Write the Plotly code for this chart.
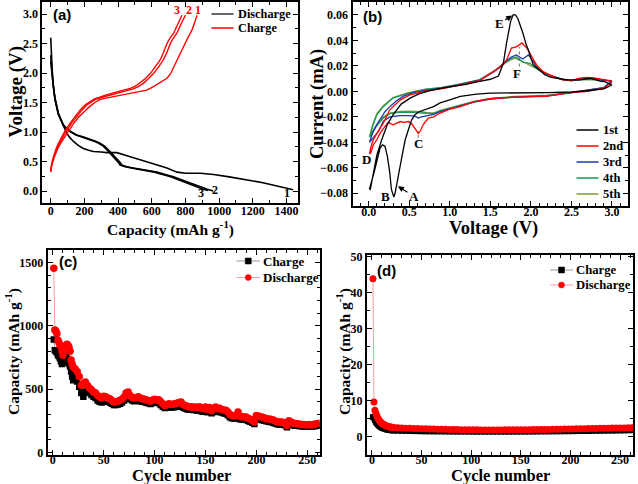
import plotly.graph_objects as go

# ---------------- (a) galvanostatic profiles ----------------
dis1_q = [0, 3, 8, 15, 25, 45, 75, 95, 115, 135, 165, 194, 225, 254, 300, 333, 393, 432, 472, 531, 580, 631, 690, 750, 800, 888, 967, 1060, 1166, 1260, 1350, 1404, 1440]
dis1_v = [2.6, 2.3, 2.1, 1.8, 1.55, 1.3, 1.1, 0.98, 0.9, 0.84, 0.77, 0.72, 0.69, 0.67, 0.66, 0.65, 0.65, 0.62, 0.58, 0.53, 0.49, 0.45, 0.39, 0.32, 0.30, 0.30, 0.28, 0.24, 0.19, 0.14, 0.08, 0.05, 0.02]
dis2_q = [0, 3, 8, 15, 25, 45, 75, 110, 155, 200, 234, 270, 293, 320, 352, 375, 392, 410, 422, 437, 452, 490, 531, 580, 631, 680, 729, 780, 829, 888, 930, 965]
dis2_v = [2.3, 2.15, 2.0, 1.8, 1.58, 1.32, 1.12, 1.02, 0.95, 0.91, 0.88, 0.84, 0.81, 0.76, 0.67, 0.6, 0.55, 0.49, 0.44, 0.42, 0.41, 0.39, 0.37, 0.345, 0.32, 0.28, 0.24, 0.185, 0.13, 0.07, 0.03, 0.0]
dis3_q = [0, 3, 8, 15, 25, 45, 75, 108, 150, 195, 228, 262, 285, 312, 343, 366, 382, 400, 412, 427, 442, 478, 518, 566, 616, 664, 712, 762, 810, 866, 905, 935]
dis3_v = [2.2, 2.1, 1.97, 1.78, 1.57, 1.31, 1.11, 1.02, 0.95, 0.91, 0.88, 0.84, 0.81, 0.76, 0.67, 0.6, 0.55, 0.49, 0.44, 0.42, 0.41, 0.39, 0.37, 0.345, 0.32, 0.28, 0.24, 0.185, 0.13, 0.07, 0.03, 0.01]
chg3_q = [0, 5, 16, 35, 55, 85, 115, 145, 174, 205, 234, 260, 283, 330, 393, 440, 472, 505, 531, 560, 591, 620, 650, 670, 690, 710, 729, 755, 779]
chg3_v = [0.33, 0.45, 0.58, 0.74, 0.86, 1.02, 1.15, 1.27, 1.37, 1.46, 1.52, 1.56, 1.58, 1.63, 1.68, 1.71, 1.74, 1.78, 1.83, 1.9, 1.99, 2.1, 2.22, 2.35, 2.5, 2.6, 2.67, 2.83, 2.98]
chg2_q = [0, 6, 19, 40, 62, 93, 124, 155, 185, 215, 245, 270, 295, 345, 405, 455, 490, 520, 548, 578, 610, 640, 668, 690, 710, 730, 750, 775, 800]
chg2_v = [0.33, 0.45, 0.58, 0.74, 0.86, 1.02, 1.15, 1.27, 1.37, 1.46, 1.52, 1.56, 1.58, 1.62, 1.66, 1.7, 1.73, 1.77, 1.82, 1.9, 1.99, 2.1, 2.22, 2.35, 2.5, 2.6, 2.68, 2.84, 2.98]
chg1_q = [0, 7, 22, 45, 70, 100, 132, 165, 198, 230, 262, 290, 320, 375, 432, 480, 531, 570, 610, 650, 690, 710, 729, 760, 789, 815, 839, 855, 869]
chg1_v = [0.33, 0.45, 0.58, 0.74, 0.86, 1.0, 1.13, 1.25, 1.35, 1.43, 1.5, 1.55, 1.57, 1.6, 1.63, 1.65, 1.68, 1.71, 1.77, 1.84, 1.91, 1.98, 2.1, 2.27, 2.45, 2.6, 2.73, 2.86, 2.98]

# ---------------- (b) cyclic voltammetry ----------------
cv1_v = [3.0, 2.9, 2.7, 2.5, 2.2, 2.0, 1.8, 1.5, 1.33, 1.13, 1.0, 0.88, 0.8, 0.76, 0.67, 0.62, 0.57, 0.53, 0.49, 0.45, 0.41, 0.365, 0.325, 0.31, 0.28, 0.26, 0.23, 0.20, 0.17, 0.14, 0.106, 0.065, 0.025, 0.01,
         0.02, 0.06, 0.10, 0.16, 0.23, 0.30, 0.40, 0.51, 0.62, 0.72, 0.85, 1.0, 1.2, 1.35, 1.5, 1.6, 1.66, 1.70, 1.72, 1.75, 1.78, 1.81, 1.84, 1.87, 1.90, 1.94, 1.97, 2.0, 2.03, 2.08, 2.11, 2.17, 2.25, 2.33, 2.45, 2.6, 2.74, 2.85, 2.91, 3.0]
cv1_i = [0.005, 0.002, 0.0005, -0.0005, -0.001, -0.001, -0.0012, -0.0014, -0.0022, -0.004, -0.0067, -0.009, -0.012, -0.013, -0.0147, -0.016, -0.0184, -0.0224, -0.030, -0.038, -0.051, -0.067, -0.080, -0.083, -0.077, -0.064, -0.051, -0.043, -0.042, -0.0445, -0.054, -0.064, -0.073, -0.0765,
         -0.077, -0.062, -0.050, -0.038, -0.026, -0.0184, -0.010, -0.0053, -0.002, 0.0, 0.002, 0.0035, 0.0055, 0.0077, 0.0095, 0.012, 0.022, 0.038, 0.046, 0.055, 0.06, 0.06, 0.057, 0.052, 0.046, 0.037, 0.0325, 0.026, 0.021, 0.018, 0.0168, 0.013, 0.011, 0.0103, 0.009, 0.009, 0.0103, 0.008, 0.0076, 0.005]
cv2_v = [3.0, 2.9, 2.7, 2.5, 2.19, 1.8, 1.5, 1.3, 1.13, 1.0, 0.88, 0.8, 0.735, 0.673, 0.633, 0.61, 0.57, 0.53, 0.49, 0.43, 0.39, 0.30, 0.24, 0.18, 0.14, 0.10, 0.057, 0.025, 0.01,
         0.025, 0.057, 0.10, 0.18, 0.26, 0.39, 0.51, 0.72, 0.9, 1.1, 1.37, 1.54, 1.62, 1.70, 1.76, 1.82, 1.89, 1.95, 2.01, 2.07, 2.15, 2.28, 2.40, 2.5, 2.6, 2.69, 2.78, 2.85, 2.93, 3.0]
cv2_i = [0.007, 0.0025, 0.0, -0.001, -0.004, -0.0045, -0.0058, -0.008, -0.012, -0.014, -0.017, -0.020, -0.021, -0.026, -0.0315, -0.033, -0.029, -0.0255, -0.0237, -0.0244, -0.0237, -0.0263, -0.0244, -0.029, -0.0328, -0.038, -0.042, -0.0485, -0.049,
         -0.044, -0.038, -0.033, -0.025, -0.0145, -0.0067, -0.0027, 0.0005, 0.002, 0.0048, 0.0085, 0.0156, 0.0195, 0.0247, 0.034, 0.035, 0.038, 0.034, 0.0273, 0.0208, 0.0155, 0.0116, 0.009, 0.0085, 0.0103, 0.011, 0.0105, 0.0096, 0.009, 0.008]
cv3_v = [3.0, 2.9, 2.5, 2.2, 1.8, 1.5, 1.3, 1.13, 1.0, 0.88, 0.8, 0.72, 0.65, 0.61, 0.57, 0.5, 0.39, 0.26, 0.18, 0.12, 0.057, 0.025, 0.01,
         0.025, 0.06, 0.1, 0.14, 0.2, 0.26, 0.35, 0.43, 0.55, 0.72, 0.9, 1.1, 1.37, 1.54, 1.62, 1.70, 1.76, 1.82, 1.87, 1.9, 1.97, 2.03, 2.1, 2.2, 2.3, 2.4, 2.5, 2.6, 2.7, 2.8, 2.9, 3.0]
cv3_i = [0.008, 0.003, -0.001, -0.0035, -0.0045, -0.006, -0.0085, -0.0115, -0.0135, -0.016, -0.018, -0.019, -0.020, -0.021, -0.0195, -0.019, -0.019, -0.020, -0.0235, -0.0315, -0.036, -0.039, -0.040,
         -0.037, -0.031, -0.026, -0.0224, -0.016, -0.012, -0.007, -0.0037, -0.001, 0.001, 0.0025, 0.005, 0.0088, 0.0152, 0.019, 0.024, 0.027, 0.0286, 0.0262, 0.0254, 0.0286, 0.023, 0.017, 0.0135, 0.011, 0.009, 0.0085, 0.0095, 0.0105, 0.0095, 0.009, 0.008]
cv4_v = [3.0, 2.9, 2.5, 2.2, 1.8, 1.5, 1.3, 1.13, 1.0, 0.88, 0.8, 0.72, 0.65, 0.6, 0.5, 0.39, 0.26, 0.18, 0.1, 0.04, 0.01,
         0.02, 0.05, 0.1, 0.18, 0.3, 0.49, 0.7, 0.9, 1.1, 1.37, 1.54, 1.62, 1.70, 1.76, 1.82, 1.9, 1.99, 2.05, 2.15, 2.3, 2.4, 2.5, 2.6, 2.7, 2.8, 2.9, 3.0]
cv4_i = [0.0085, 0.003, -0.001, -0.0035, -0.0045, -0.0058, -0.008, -0.011, -0.013, -0.0155, -0.0175, -0.0175, -0.017, -0.0165, -0.0163, -0.0163, -0.0175, -0.021, -0.027, -0.033, -0.036,
         -0.034, -0.027, -0.0184, -0.012, -0.0053, -0.0014, 0.0015, 0.003, 0.0052, 0.009, 0.0155, 0.0195, 0.0235, 0.026, 0.027, 0.023, 0.022, 0.019, 0.015, 0.011, 0.009, 0.0085, 0.009, 0.0095, 0.009, 0.0088, 0.0085]
cv5_v = [3.0, 2.9, 2.5, 2.2, 1.8, 1.5, 1.3, 1.13, 1.0, 0.88, 0.8, 0.72, 0.65, 0.6, 0.5, 0.39, 0.26, 0.18, 0.1, 0.04, 0.01,
         0.02, 0.05, 0.1, 0.18, 0.3, 0.49, 0.7, 0.9, 1.1, 1.37, 1.54, 1.62, 1.70, 1.76, 1.80, 1.88, 1.95, 2.05, 2.15, 2.3, 2.4, 2.5, 2.6, 2.7, 2.8, 2.9, 3.0]
cv5_i = [0.008, 0.003, -0.0008, -0.003, -0.004, -0.0055, -0.0078, -0.0105, -0.0125, -0.015, -0.017, -0.0168, -0.016, -0.0158, -0.0155, -0.0158, -0.017, -0.020, -0.026, -0.032, -0.035,
         -0.033, -0.026, -0.0175, -0.0112, -0.0048, -0.001, 0.0017, 0.0032, 0.0054, 0.0092, 0.0155, 0.019, 0.023, 0.025, 0.026, 0.024, 0.022, 0.0185, 0.0145, 0.0108, 0.009, 0.0085, 0.009, 0.0095, 0.009, 0.0088, 0.008]

# ---------------- (c) cycling, electrode 1 ----------------
cyc_c = [1, 2, 3, 4, 5, 6, 7, 8, 9, 10, 11, 12, 13, 14, 15, 16, 17, 18, 19, 20,
         22, 24, 26, 28, 30, 32, 34, 36, 38, 40, 42, 44, 46, 48, 50, 52, 54, 56, 58, 60,
         62, 64, 66, 68, 70, 72, 74, 76, 78, 80, 82, 84, 86, 88, 90, 92, 94, 96, 98, 100,
         102, 104, 106, 108, 110, 112, 114, 116, 118, 120, 122, 124, 126, 128, 130, 132, 134, 136, 138, 140,
         142, 144, 146, 148, 150, 152, 154, 156, 158, 160, 162, 164, 166, 168, 170, 172, 174, 176, 178, 180,
         182, 184, 186, 188, 190, 192, 194, 196, 198, 200, 202, 204, 206, 208, 210, 212, 214, 216, 218, 220,
         222, 224, 226, 228, 230, 232, 234, 236, 238, 240, 242, 244, 246, 248, 250, 252, 254, 256, 258, 260, 262]
dis_c = [1456, 967, 960, 940, 888, 870, 850, 835, 800, 769, 800, 830, 848, 855, 845, 830, 800, 730, 700, 676,
         660, 640, 600, 531, 545, 557, 530, 510, 495, 478, 470, 450, 438, 430, 445, 440, 430, 425, 410, 399,
         400, 405, 412, 420, 438, 470, 478, 451, 435, 430, 435, 440, 430, 425, 420, 415, 410, 404, 412, 420,
         415, 417, 400, 385, 372, 378, 385, 380, 382, 385, 388, 395, 399, 380, 372, 365, 360, 362, 358, 359,
         355, 362, 350, 345, 359, 340, 355, 330, 350, 359, 345, 350, 340, 335, 333, 320, 300, 293, 290, 293,
         320, 285, 282, 280, 280, 270, 262, 253, 240, 293, 288, 282, 278, 272, 267, 265, 262, 258, 250, 242,
         240, 240, 238, 232, 214, 250, 240, 232, 228, 227, 225, 222, 222, 220, 220, 222, 218, 222, 225, 227, 230]
chg_c = [893, 808, 800, 790, 770, 760, 745, 720, 700, 710, 730, 745, 760, 740, 720, 700, 680, 640, 600, 570,
         585, 560, 520, 470, 440, 480, 490, 470, 455, 440, 430, 410, 400, 395, 410, 405, 400, 395, 385, 375,
         375, 380, 385, 395, 410, 435, 445, 420, 410, 405, 410, 412, 405, 400, 398, 392, 388, 384, 390, 395,
         392, 390, 375, 362, 352, 355, 360, 356, 358, 360, 362, 368, 370, 356, 348, 342, 338, 338, 335, 335,
         332, 335, 326, 322, 330, 318, 325, 310, 322, 328, 320, 322, 315, 310, 305, 295, 278, 270, 268, 270,
         285, 262, 260, 258, 256, 248, 242, 235, 225, 265, 262, 258, 254, 250, 246, 243, 240, 236, 230, 224,
         222, 221, 220, 215, 200, 228, 222, 216, 212, 211, 210, 208, 208, 206, 206, 207, 205, 207, 209, 211, 213]

# ---------------- (d) cycling, electrode 2 ----------------
cyc_d = [1, 2, 3, 4, 5, 6, 7, 8, 9, 10, 11, 12, 13, 14, 15, 16, 17, 18, 19, 20,
         22, 26, 30, 34, 38, 42, 46, 50, 54, 58, 62, 66, 70, 74, 78, 82, 86, 90, 94, 98,
         102, 106, 110, 114, 118, 122, 126, 130, 134, 138, 142, 146, 150, 154, 158, 162, 166, 170, 174, 178,
         182, 186, 190, 194, 198, 202, 206, 210, 214, 218, 222, 226, 230, 234, 238, 242, 246, 250, 254, 258, 262]
dis_d = [43.9, 9.7, 7.4, 6.5, 5.8, 5.2, 4.8, 4.4, 4.1, 3.8, 3.6, 3.4, 3.3, 3.15, 3.05, 2.95, 2.85, 2.8, 2.75, 2.7,
         2.65, 2.55, 2.5, 2.45, 2.4, 2.35, 2.32, 2.3, 2.27, 2.24, 2.2, 2.18, 2.15, 2.12, 2.1, 2.08, 2.06, 2.04, 2.02, 2.0,
         2.0, 1.98, 1.97, 1.96, 1.96, 1.96, 1.97, 1.97, 1.98, 1.98, 1.99, 2.0, 2.0, 2.02, 2.03, 2.05, 2.06, 2.08, 2.1, 2.11,
         2.13, 2.15, 2.17, 2.19, 2.2, 2.22, 2.25, 2.27, 2.3, 2.32, 2.35, 2.37, 2.4, 2.42, 2.44, 2.46, 2.48, 2.5, 2.52, 2.55, 2.57]
chg_d = [5.5, 5.4, 4.7, 4.2, 3.8, 3.5, 3.2, 3.0, 2.8, 2.6, 2.5, 2.4, 2.3, 2.2, 2.1, 2.05, 2.0, 1.95, 1.9, 1.85,
         1.8, 1.75, 1.72, 1.7, 1.67, 1.65, 1.63, 1.6, 1.58, 1.57, 1.56, 1.55, 1.54, 1.53, 1.52, 1.51, 1.5, 1.5, 1.49, 1.49,
         1.48, 1.48, 1.47, 1.47, 1.47, 1.47, 1.47, 1.48, 1.48, 1.48, 1.49, 1.49, 1.5, 1.5, 1.51, 1.52, 1.53, 1.54, 1.55, 1.56,
         1.57, 1.58, 1.59, 1.6, 1.61, 1.62, 1.64, 1.65, 1.67, 1.68, 1.7, 1.72, 1.73, 1.75, 1.77, 1.78, 1.8, 1.82, 1.84, 1.86, 1.88]

# ---------------- styling ----------------
SERIF = "Liberation Serif"
W, H = 638, 484
def px(x):
    return x / W
def py(y):
    return 1 - y / H

DIS_LINE = "#ff9a9a"
CHG_LINE = "#9a9a9a"
cv_colors = ["black", "#ff0000", "#1f35b0", "#1a9a55", "#7c9a3c"]
cv_names = ["1st", "2nd", "3rd", "4th", "5th"]

fig = go.Figure()

# (a)
for q, v in [(dis1_q, dis1_v), (dis2_q, dis2_v), (dis3_q, dis3_v)]:
    fig.add_trace(go.Scatter(x=q, y=v, mode="lines", line=dict(color="black", width=1.6),
                             name="Discharge", showlegend=False, xaxis="x", yaxis="y"))
for q, v in [(chg1_q, chg1_v), (chg2_q, chg2_v), (chg3_q, chg3_v)]:
    fig.add_trace(go.Scatter(x=q, y=v, mode="lines", line=dict(color="#ff0000", width=1.4),
                             name="Charge", showlegend=False, xaxis="x", yaxis="y"))

# (b)
cv_data = [(cv1_v, cv1_i), (cv2_v, cv2_i), (cv3_v, cv3_i), (cv4_v, cv4_i), (cv5_v, cv5_i)]
for k in [4, 3, 2, 1, 0]:
    vv, ii = cv_data[k]
    fig.add_trace(go.Scatter(x=vv, y=ii, mode="lines", line=dict(color=cv_colors[k], width=1.3),
                             name=cv_names[k], showlegend=False, xaxis="x2", yaxis="y2"))

# (c)
fig.add_trace(go.Scatter(x=cyc_c, y=chg_c, mode="lines+markers", name="Charge", showlegend=False,
                         line=dict(color=CHG_LINE, width=1), marker=dict(symbol="square", size=6.5, color="black"),
                         xaxis="x3", yaxis="y3"))
fig.add_trace(go.Scatter(x=cyc_c, y=dis_c, mode="lines+markers", name="Discharge", showlegend=False,
                         line=dict(color=DIS_LINE, width=1), marker=dict(symbol="circle", size=7.5, color="#ff0000"),
                         xaxis="x3", yaxis="y3"))
# (d)
fig.add_trace(go.Scatter(x=cyc_d, y=chg_d, mode="lines+markers", name="Charge", showlegend=False,
                         line=dict(color=CHG_LINE, width=1), marker=dict(symbol="square", size=6, color="black"),
                         xaxis="x4", yaxis="y4"))
fig.add_trace(go.Scatter(x=cyc_d, y=dis_d, mode="lines+markers", name="Discharge", showlegend=False,
                         line=dict(color=DIS_LINE, width=1), marker=dict(symbol="circle", size=7, color="#ff0000"),
                         xaxis="x4", yaxis="y4"))

tickfont = dict(family=SERIF, size=12, color="black", weight="bold")

def ax(domain, rng, dtick, minor_dtick, anchor, fmt=None, standoff=None):
    d = dict(domain=domain, range=rng, dtick=dtick, tick0=0, ticks="inside", ticklen=5, tickwidth=1.2,
             tickcolor="black", showline=True, linecolor="black", linewidth=2, mirror="allticks",
             showgrid=False, zeroline=False, tickfont=tickfont, anchor=anchor, automargin=False,
             minor=dict(dtick=minor_dtick, tick0=0, ticks="inside", ticklen=3, tickwidth=1, tickcolor="black",
                        showgrid=False))
    if fmt:
        d["tickformat"] = fmt
    if standoff is not None:
        d["ticklabelstandoff"] = standoff
    return d

fig.update_layout(
    width=W, height=H, margin=dict(l=0, r=0, t=0, b=0, pad=0, autoexpand=False),
    paper_bgcolor="white", plot_bgcolor="white", showlegend=False,
    xaxis=ax([px(42.3), px(298.3)], [-50, 1470], 200, 100, "y", standoff=-4),
    yaxis=ax([py(202.8), py(2.2)], [-0.2, 3.2], 0.5, 0.25, "x", ".1f"),
    xaxis2=ax([px(352.5), px(628.2)], [-0.2, 3.2], 0.5, 0.1, "y2", ".1f", standoff=-6),
    yaxis2=ax([py(206), py(2.2)], [-0.09, 0.07], 0.02, 0.01, "x2", ".2f"),
    xaxis3=ax([px(47.7), px(319.5)], [-5, 262], 50, 10, "y3", standoff=-7),
    yaxis3=ax([py(455), py(250)], [-20, 1600], 500, 100, "x3"),
    xaxis4=ax([px(367), px(633)], [-5, 263], 50, 10, "y4", standoff=-7),
    yaxis4=ax([py(455), py(255)], [-5, 50.5], 10, 5, "x4"),
)

ann = []
shapes = []

def t(text, x, y, angle=0, size=17):
    ann.append(dict(text=text, x=px(x), y=py(y), xref="paper", yref="paper", showarrow=False,
                    textangle=angle, font=dict(family=SERIF, size=size, color="black", weight="bold"),
                    xanchor="center", yanchor="middle"))
t("Capacity (mAh g<sup>-1</sup>)", 170, 228.5, 0, 15.5)
t("Voltage (V)", 15.5, 92, -90, 19)
t("Voltage (V)", 493, 229, 0, 18.5)
t("Current (mA)", 318, 104, -90, 18.5)
t("Cycle number", 181, 475, 0, 16.5)
t("Capacity (mAh g<sup>-1</sup>)", 12, 352, -90, 15.5)
t("Cycle number", 500, 475, 0, 16.5)
t("Capacity (mAh g<sup>-1</sup>)", 343, 352, -90, 15.5)

panelfont = dict(family="Liberation Sans", size=15, color="black", weight="bold")
for lab, x, y in [("(a)", 51, 15), ("(b)", 361, 16.5), ("(c)", 57, 261.5), ("(d)", 375, 270.5)]:
    ann.append(dict(text=lab, x=px(x), y=py(y), xref="paper", yref="paper", showarrow=False,
                    font=panelfont, xanchor="left", yanchor="middle"))

# legend entries (drawn as key samples + text)
def key(x0, x1, y, color, text, tx, size=12.5, marker=None, mcolor=None, width=1.5):
    shapes.append(dict(type="line", xref="paper", yref="paper", x0=px(x0), x1=px(x1), y0=py(y), y1=py(y),
                       line=dict(color=color, width=width)))
    if marker:
        xm = (x0 + x1) / 2
        r = 3
        shapes.append(dict(type="rect" if marker == "square" else "circle", xref="paper", yref="paper",
                           x0=px(xm - r), x1=px(xm + r), y0=py(y + r), y1=py(y - r),
                           fillcolor=mcolor, line=dict(color=mcolor, width=0.5)))
    ann.append(dict(text=text, x=px(tx), y=py(y), xref="paper", yref="paper", showarrow=False,
                    font=dict(family=SERIF, size=size, color="black", weight="bold"),
                    xanchor="left", yanchor="middle"))

key(211.5, 233.5, 14, "#333333", "Discharge", 236, 12.3)
key(211.5, 233.5, 28, "#ff0000", "Charge", 236, 12.3)
for k in range(5):
    key(576.5, 598.5, 130 + 16 * k, cv_colors[k], cv_names[k], 601, 12.5, width=1.5)
key(236.5, 260, 261, CHG_LINE, "Charge", 261, 13, "square", "black", 1)
key(236.5, 260, 277.5, DIS_LINE, "Discharge", 261, 13, "circle", "#ff0000", 1)
key(550, 573, 270, CHG_LINE, "Charge", 574, 12.7, "square", "black", 1)
key(550, 573, 285, DIS_LINE, "Discharge", 574, 12.7, "circle", "#ff0000", 1)

# cycle labels in (a)
lblfont_r = dict(family=SERIF, size=12, color="#ff0000", weight="bold")
lblfont_k = dict(family=SERIF, size=12, color="black", weight="bold")
for txt, xx, yy in [("3", 750, 3.07), ("2", 822, 3.07), ("1", 872, 3.07)]:
    ann.append(dict(text=txt, x=xx, y=yy, xref="x", yref="y", showarrow=False, font=lblfont_r))
for txt, xx, yy in [("3", 893, -0.04), ("2", 975, 0.01), ("1", 1405, -0.04)]:
    ann.append(dict(text=txt, x=xx, y=yy, xref="x", yref="y", showarrow=False, font=lblfont_k))

# peak labels in (b)
pkfont = dict(family=SERIF, size=13, color="black", weight="bold")
ann.append(dict(text="E", x=1.77, y=0.0595, xref="x2", yref="y2", ax=-13, ay=8, showarrow=True,
                arrowhead=2, arrowsize=1, arrowwidth=1.2, arrowcolor="black", font=pkfont))
ann.append(dict(text="A", x=0.36, y=-0.0745, xref="x2", yref="y2", ax=16, ay=10, showarrow=True,
                arrowhead=2, arrowsize=1, arrowwidth=1.2, arrowcolor="black", font=pkfont))
ann.append(dict(text="B", x=0.053, y=-0.0705, xref="x2", yref="y2", ax=12, ay=15, showarrow=True,
                arrowhead=2, arrowsize=1, arrowwidth=1.2, arrowcolor="black", font=pkfont))
ann.append(dict(text="C", x=0.61, y=-0.0411, xref="x2", yref="y2", showarrow=False, font=pkfont))
ann.append(dict(text="D", x=-0.03, y=-0.0531, xref="x2", yref="y2", showarrow=False, font=pkfont))
ann.append(dict(text="F", x=1.83, y=0.0137, xref="x2", yref="y2", showarrow=False, font=pkfont))

shapes.append(dict(type="line", xref="x2", yref="y2", x0=0.61, x1=0.61, y0=-0.0365, y1=-0.031,
                   line=dict(color="#666666", width=1, dash="dot")))
shapes.append(dict(type="line", xref="x2", yref="y2", x0=1.857, x1=1.857, y0=0.0195, y1=0.0351,
                   line=dict(color="#666666", width=1, dash="dot")))

fig.update_layout(annotations=ann, shapes=shapes)

fig.write_html("out.html", config={"displayModeBar": False},
               post_script="document.body.style.margin='0px';")
